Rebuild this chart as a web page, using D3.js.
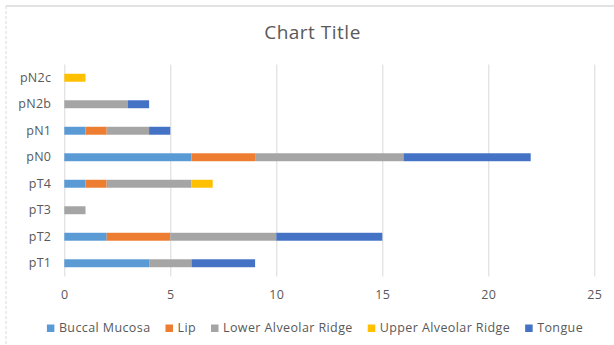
<!DOCTYPE html>
<html>
<head>
<meta charset="utf-8">
<script src="https://cdn.jsdelivr.net/npm/d3@7"></script>
<style>
  body { margin: 0; background: #fff; }
  text { font-family: "Open Sans", sans-serif; fill: #595959; }
</style>
</head>
<body>
<div id="chart"></div>
<script>
// categories top to bottom as shown
const categories = ["pN2c", "pN2b", "pN1", "pN0", "pT4", "pT3", "pT2", "pT1"];
const seriesNames = ["Buccal Mucosa", "Lip", "Lower Alveolar Ridge", "Upper Alveolar Ridge", "Tongue"];
const seriesColors = ["#5B9BD5", "#ED7D31", "#A5A5A5", "#FFC000", "#4472C4"];

// values per series, in the order of categories
const buccalMucosa       = [0, 0, 1, 6, 1, 0, 2, 4];
const lip                = [0, 0, 1, 3, 1, 0, 3, 0];
const lowerAlveolarRidge = [0, 3, 2, 7, 4, 1, 5, 2];
const upperAlveolarRidge = [1, 0, 0, 0, 1, 0, 0, 0];
const tongue             = [0, 1, 1, 6, 0, 0, 5, 3];

const xTicks = [0, 5, 10, 15, 20, 25];

const settings = {
    width: 614,
    height: 345,
    left: 64.3,
    right: 594.3,
    top: 64.5,
    bottom: 276.5,
    barPadding: 0.7,
    legendGap: 15,
};

const seriesValues = [buccalMucosa, lip, lowerAlveolarRidge, upperAlveolarRidge, tongue];
const rows = categories.map((c, i) => {
    const row = { cat: c };
    seriesNames.forEach((s, j) => { row[s] = seriesValues[j][i]; });
    return row;
});
const stacked = d3.stack().keys(seriesNames)(rows);

const svg = d3.select("#chart").append("svg")
    .attr("width", settings.width)
    .attr("height", settings.height);

// chart frame
svg.append("line")
    .attr("x1", 6).attr("x2", 614).attr("y1", 6).attr("y2", 6)
    .attr("stroke", "#d9d9d9").attr("stroke-width", 1.5);
svg.append("line")
    .attr("x1", 6).attr("x2", 6).attr("y1", 6).attr("y2", 345)
    .attr("stroke", "#d9d9d9").attr("stroke-dasharray", "3,2");

svg.append("text")
    .attr("x", 312.5).attr("y", 38.5)
    .attr("text-anchor", "middle")
    .style("font-size", "19px")
    .style("letter-spacing", "0.5px")
    .text("Chart Title");

const x = d3.scaleLinear().domain([0, 25]).range([settings.left, settings.right]);
const y = d3.scaleBand().domain(categories)
    .range([settings.top, settings.bottom])
    .paddingInner(settings.barPadding)
    .paddingOuter(settings.barPadding / 2);

const labelStyle = sel => sel
    .style("font-size", "12.5px")
    .style("letter-spacing", "0.3px")
    .style("font-family", "Open Sans, sans-serif")
    .attr("fill", "#595959");

// gridlines + tick labels
const xAxis = svg.append("g")
    .attr("transform", `translate(0,${settings.bottom})`)
    .call(d3.axisBottom(x).tickValues(xTicks).tickSize(-(settings.bottom - settings.top)).tickPadding(14));
xAxis.select(".domain").remove();
xAxis.selectAll("line").attr("stroke", "#d9d9d9");
xAxis.selectAll("text").call(labelStyle);

const yAxis = svg.append("g")
    .attr("transform", `translate(${settings.left},0)`)
    .call(d3.axisLeft(y).tickSize(0).tickPadding(13));
yAxis.select(".domain").remove();
yAxis.selectAll("text").call(labelStyle);

// bars
svg.append("g").selectAll("g")
    .data(stacked)
    .join("g")
    .attr("fill", (d, i) => seriesColors[i])
    .selectAll("rect")
    .data(d => d.filter(p => p[1] > p[0]))
    .join("rect")
    .attr("x", d => x(d[0]))
    .attr("width", d => x(d[1]) - x(d[0]))
    .attr("y", d => y(d.data.cat))
    .attr("height", y.bandwidth());

// legend, centred under the plot
const legend = svg.append("g");
const items = legend.selectAll("g").data(seriesNames).join("g");
items.append("rect")
    .attr("width", 7.5).attr("height", 7.5).attr("y", -6.5)
    .attr("fill", (d, i) => seriesColors[i]);
items.append("text")
    .attr("x", 12).attr("y", 0.5)
    .style("font-size", "12.5px")
    .style("letter-spacing", "0.4px")
    .text(d => d);
let offset = 0;
items.each(function() {
    const w = 12 + d3.select(this).select("text").node().getComputedTextLength();
    d3.select(this).attr("transform", `translate(${offset},0)`);
    offset += w + settings.legendGap;
});
const legendWidth = offset - settings.legendGap;
legend.attr("transform", `translate(${315 - legendWidth / 2},331)`);
</script>
</body>
</html>
